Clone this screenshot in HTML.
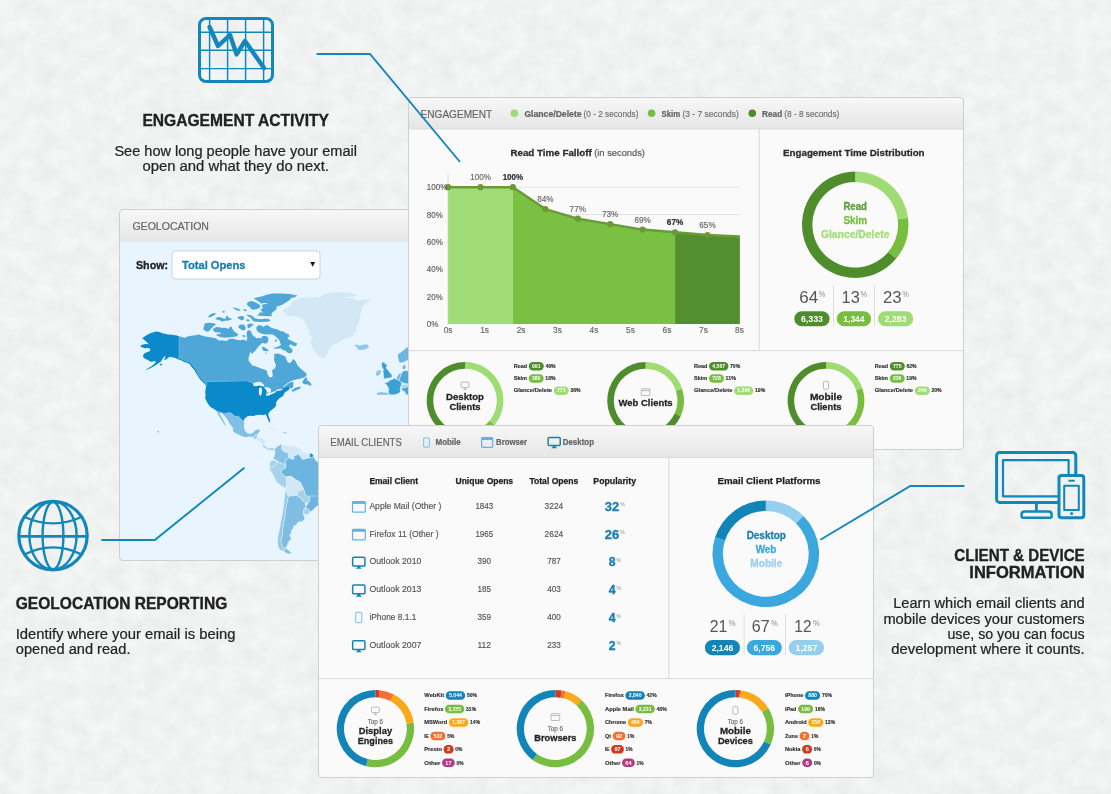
<!DOCTYPE html>
<html lang="en">
<head>
<meta charset="utf-8">
<title>Email Analytics – Engagement, Geolocation, Client &amp; Device Reporting</title>
<style>
html,body{margin:0;padding:0;background:#f1f2f1;}
body{width:1111px;height:794px;overflow:hidden;font-family:'Liberation Sans', Arial, Helvetica, sans-serif;}
svg{display:block;position:absolute;left:0;top:0;}
svg text{font-family:'Liberation Sans', Arial, Helvetica, sans-serif;}
</style>
</head>
<body>
<svg width="1111" height="794" viewBox="0 0 1111 794">
<defs>
<linearGradient id="hdr" x1="0" y1="0" x2="0" y2="1"><stop offset="0" stop-color="#f7f7f7"/><stop offset="1" stop-color="#e6e6e6"/></linearGradient>
<filter id="tex" x="0" y="0" width="100%" height="100%" color-interpolation-filters="sRGB"><feTurbulence type="fractalNoise" baseFrequency="0.055 0.06" numOctaves="3" seed="11"/><feColorMatrix type="matrix" values="0.06 0 0 0 0.913  0.06 0 0 0 0.917  0.06 0 0 0 0.917  0 0 0 0 1"/></filter>
</defs>
<rect width="1111" height="794" fill="#f1f2f2"/>
<rect id="bg-texture" width="1111" height="794" fill="#f1f2f2" filter="url(#tex)"/>
<g id="geo">
<clipPath id="geo-clip"><rect x="119.5" y="209.5" width="555" height="351" rx="3.5"/></clipPath>
<rect x="119.5" y="209.5" width="555" height="351" rx="3.5" fill="#fafafa"/>
<g clip-path="url(#geo-clip)">
<rect x="119.5" y="209.5" width="555" height="32" fill="url(#hdr)"/>
<rect x="119.5" y="241.0" width="555" height="1" fill="#dcdcdc"/>
<rect x="119.5" y="241.5" width="555" height="319" fill="#e8f5fe"/>
<text x="132.40" y="230.30" font-size="11.2" fill="#666" stroke="#666" stroke-width="0.20" textLength="76.60" lengthAdjust="spacingAndGlyphs">GEOLOCATION</text>
<g id="world-map">
<path d="M282.3 310.7L286.3 308.6L291.2 305.0L290.4 303.4L295.3 300.5L298.5 298.1L305.8 297.5L313.1 297.7L315.5 296.9L321.2 297.7L320.8 296.1L325.2 294.1L333.3 292.4L343.9 292.3L352.0 293.2L357.2 294.9L356.0 296.1L347.9 296.9L342.2 297.7L352.0 298.1L356.0 298.9L356.0 300.5L359.3 300.1L365.0 299.3L371.0 299.4L367.4 302.2L363.3 305.0L361.7 307.8L360.9 311.1L360.5 314.3L359.3 317.5L360.1 320.0L358.0 322.4L358.8 324.8L356.0 326.5L356.8 329.7L356.0 332.1L353.6 333.7L354.4 335.4L350.3 337.0L346.3 338.6L342.2 340.2L338.2 342.7L334.1 344.3L330.9 346.7L328.9 349.9L327.7 353.2L326.8 355.6L323.4 358.5L320.4 357.2L316.3 354.0L313.9 349.9L311.5 345.1L310.2 341.8L311.5 338.6L313.9 335.4L311.5 335.8L308.6 335.4L309.0 332.9L311.5 332.1L308.2 330.5L307.4 327.3L306.2 324.0L304.2 320.8L301.7 318.4L297.7 316.7L293.6 316.3L288.8 316.3L284.7 315.1L287.2 313.5L283.9 312.3Z" fill="#d2e8f5"/>
<path d="M354.7 345.0L356.7 344.4L358.8 345.8L362.4 345.0L365.6 344.2L368.1 345.0L368.9 347.0L367.3 348.6L364.0 349.6L360.8 350.1L357.9 349.4L357.1 347.4L355.5 346.2Z" fill="#90c6e8"/>
<path d="M398.0 354.3L400.5 352.7L403.7 350.3L407.0 347.4L410.2 345.8L410.2 360.0L406.2 360.4L403.7 362.0L401.3 362.8L399.3 362.0L398.5 359.2L398.0 356.7Z" fill="#6db4df"/>
<path d="M402.9 366.0L404.9 364.8L405.7 366.5L404.9 368.9L403.3 369.3L402.5 367.7Z" fill="#6db4df"/>
<path d="M381.8 363.2L383.5 362.2L385.1 362.8L384.3 364.0L386.7 364.4L386.7 366.0L385.9 368.1L387.5 369.7L389.1 372.1L391.2 374.2L392.0 376.2L390.8 377.4L388.3 377.8L385.9 378.2L383.1 379.0L384.3 377.4L383.5 375.4L383.9 373.7L383.1 371.7L383.9 369.7L382.7 368.1L381.8 365.6Z" fill="#3c9fd6"/>
<path d="M376.2 372.1L377.8 370.5L380.2 369.9L381.0 371.3L380.6 373.7L378.6 375.4L376.6 375.8L376.0 374.2Z" fill="#90c6e8"/>
<path d="M401.3 373.7L402.9 371.3L405.3 370.5L410.2 371.3L410.2 384.3L405.3 383.5L402.1 382.7L401.3 381.8L398.9 380.6L399.3 378.6L400.5 376.2Z" fill="#4fa7d8" stroke="#e8f5fe" stroke-width="0.45" stroke-linejoin="round"/>
<path d="M396.4 377.8L398.0 375.4L399.7 373.3L401.3 373.7L400.5 376.2L399.3 378.6L398.9 380.6L396.4 379.4Z" fill="#6db4df" stroke="#e8f5fe" stroke-width="0.45" stroke-linejoin="round"/>
<path d="M401.3 387.9L403.7 387.9L407.0 386.7L410.2 386.7L410.2 394.8L406.2 394.8L404.5 391.6L402.1 390.4Z" fill="#4fa7d8" stroke="#e8f5fe" stroke-width="0.45" stroke-linejoin="round"/>
<path d="M400.5 385.9L402.9 384.7L406.2 384.3L410.2 384.4L410.2 386.7L407.0 386.7L403.7 387.9L401.3 387.9Z" fill="#a6d2ec" stroke="#e8f5fe" stroke-width="0.45" stroke-linejoin="round"/>
<path d="M384.3 382.7L387.5 382.3L389.9 380.2L392.4 379.4L394.0 378.2L396.4 379.4L398.9 380.6L401.3 381.8L401.7 384.3L400.5 386.7L400.1 389.1L400.5 391.6L398.9 393.2L394.8 394.8L389.9 394.8L388.3 392.4L388.7 389.1L387.5 385.9L385.9 384.3Z" fill="#3c9fd6" stroke="#e8f5fe" stroke-width="0.45" stroke-linejoin="round"/>
<path d="M377.0 392.8L381.8 392.2L386.7 392.8L389.1 394.8L377.0 394.8Z" fill="#7fbfe4"/>
<path d="M179.0 336.2L181.8 337.0L185.1 337.8L188.3 336.2L193.2 335.4L197.2 335.0L199.3 334.2L200.0 335.0L204.1 336.2L208.1 337.0L212.2 337.4L216.2 338.6L218.6 340.6L221.9 340.2L226.7 341.0L229.2 339.0L232.4 338.6L236.5 339.8L240.5 340.2L243.7 339.4L246.2 341.0L247.4 338.6L246.6 335.4L247.0 331.3L248.6 330.1L250.6 330.9L251.8 332.9L252.7 335.4L255.1 337.0L256.7 338.6L258.3 337.8L260.8 338.6L262.4 336.2L264.8 335.8L267.2 336.6L268.5 338.6L268.0 341.8L266.4 343.5L264.0 343.5L262.4 342.7L260.8 344.3L258.3 346.7L255.9 349.9L253.5 352.4L251.8 354.0L250.5 351.6L248.7 357.3L248.5 360.5L250.5 363.0L252.2 365.4L256.2 366.6L260.3 368.2L264.3 369.4L267.1 371.1L267.5 374.3L269.2 377.1L271.2 377.5L272.8 375.9L272.4 372.7L272.0 370.3L274.8 368.6L276.0 365.4L274.8 362.2L274.0 359.7L274.4 356.5L274.0 354.1L278.1 353.6L282.1 354.9L285.4 356.5L286.2 358.9L287.8 362.2L290.2 363.0L291.8 361.3L293.1 358.9L295.1 360.5L296.7 363.8L298.3 366.2L301.6 369.4L304.8 371.9L306.8 373.9L306.0 376.3L304.0 377.5L299.9 378.8L295.9 379.6L291.8 380.8L288.6 382.4L286.2 384.0L284.4 385.6L282.9 387.7L280.5 388.7L276.5 389.9L276.0 391.3L274.0 392.1L270.8 393.3L266.7 394.6L266.3 392.9L266.7 390.5L265.1 388.1L263.5 386.5L261.1 384.4L257.8 384.0L254.6 384.0L253.0 383.2L248.1 380.9L240.0 380.9L206.6 381.6L206.6 384.8L204.5 381.9L201.3 378.7L198.9 375.5L197.2 372.2L195.6 369.0L193.2 366.6L190.8 363.3L188.3 361.7L185.1 360.9L181.8 359.3L179.0 358.5Z" fill="#4fa7d8"/>
<path d="M284.4 387.4L284.6 386.3L286.6 384.7L289.4 382.8L292.7 381.8L293.6 382.4L293.1 384.4L293.5 386.0L292.7 387.7L290.6 388.5L289.4 388.1L288.6 386.0L287.0 386.5L285.8 386.9Z" fill="#4fa7d8"/>
<path d="M291.7 390.5L293.9 388.6L297.1 387.3L299.9 386.5L300.8 387.4L299.5 388.9L296.7 390.0L293.5 391.6L291.8 391.6Z" fill="#4fa7d8"/>
<path d="M302.1 382.8L303.8 379.3L306.0 377.2L307.2 377.9L306.8 380.1L308.7 381.1L310.8 383.2L311.6 385.0L310.3 386.0L308.5 384.7L306.4 384.3L304.4 384.2Z" fill="#4fa7d8"/>
<path d="M203.2 328.9L204.9 323.2L208.9 322.8L213.8 323.2L216.2 324.4L213.8 326.0L211.3 328.5L208.9 331.3L206.5 331.7L204.1 330.1Z" fill="#4fa7d8"/>
<path d="M213.0 328.9L216.2 326.9L219.4 327.3L222.7 328.1L225.9 327.7L228.4 328.9L230.0 326.9L231.6 326.5L232.4 328.9L234.0 331.3L236.5 332.9L238.5 334.6L236.5 336.6L232.4 337.0L228.4 337.4L224.3 337.8L220.3 337.0L217.0 335.8L216.2 334.6L220.3 333.7L221.9 332.9L218.6 332.5L214.6 332.1L213.4 330.5Z" fill="#4fa7d8"/>
<path d="M208.1 316.7L210.5 314.3L213.8 313.1L216.2 313.5L214.6 315.1L212.2 316.3L209.7 317.5Z" fill="#4fa7d8"/>
<path d="M215.4 318.8L217.8 317.1L221.1 317.5L224.3 318.8L226.3 317.9L225.9 315.9L227.9 315.9L228.8 317.9L231.6 318.4L231.6 319.6L228.4 320.4L225.1 320.8L222.7 321.6L221.1 321.2L219.4 320.0L216.2 319.6Z" fill="#4fa7d8"/>
<path d="M221.9 311.5L224.3 310.9L225.1 312.3L222.7 312.8Z" fill="#4fa7d8"/>
<path d="M233.2 307.4L235.6 307.8L238.9 309.0L240.5 310.3L239.7 310.9L236.9 310.3L234.0 308.8Z" fill="#4fa7d8"/>
<path d="M243.3 309.0L245.4 309.3L247.0 310.7L245.4 311.2L243.7 310.3Z" fill="#4fa7d8"/>
<path d="M237.3 317.5L239.7 316.3L242.9 315.9L244.2 317.5L243.7 319.6L241.7 320.4L239.7 319.2L238.1 318.5Z" fill="#4fa7d8"/>
<path d="M246.2 319.6L248.6 319.2L249.8 320.4L248.6 321.4L246.6 320.9Z" fill="#4fa7d8"/>
<path d="M246.6 303.8L248.6 301.7L251.8 300.9L255.1 302.2L258.3 303.8L260.4 305.8L259.9 307.8L256.7 309.0L253.5 309.8L251.0 309.0L249.8 307.0L247.8 305.8Z" fill="#4fa7d8"/>
<path d="M246.2 314.3L249.4 315.1L252.7 315.9L254.3 317.9L256.7 318.8L260.8 319.2L264.8 318.8L268.9 319.0L270.5 320.4L268.9 321.6L264.8 321.8L260.8 322.0L256.7 321.8L253.5 321.2L251.8 319.6L250.6 317.5L247.8 316.3Z" fill="#4fa7d8"/>
<path d="M238.1 326.9L239.7 324.8L242.1 324.4L244.2 324.8L245.4 327.3L245.8 329.3L243.7 330.5L241.7 330.1L239.7 328.5Z" fill="#4fa7d8"/>
<path d="M247.4 324.8L249.4 323.6L252.7 323.9L253.9 324.7L251.8 326.0L249.8 327.7L248.2 328.5L247.4 326.9Z" fill="#4fa7d8"/>
<path d="M262.0 346.7L264.0 347.1L267.2 349.1L268.9 350.4L266.4 350.8L264.0 350.4L262.4 349.1Z" fill="#4fa7d8"/>
<path d="M274.9 339.8L276.6 339.8L277.0 341.2L275.3 341.7Z" fill="#4fa7d8"/>
<path d="M242.1 335.4L244.2 335.0L245.8 336.6L244.2 337.1L242.5 336.6Z" fill="#4fa7d8"/>
<path d="M254.3 298.1L258.3 297.3L263.2 296.1L267.2 294.5L272.9 293.6L281.5 293.4L289.6 294.1L297.3 295.5L295.3 296.9L291.2 298.1L289.6 300.1L286.3 302.2L283.1 304.2L279.9 305.8L276.6 306.6L276.6 307.8L276.2 309.8L272.9 311.9L271.3 314.3L272.1 315.9L269.7 316.3L264.8 315.9L259.9 315.8L256.7 315.5L259.1 313.9L259.9 311.9L263.2 313.1L261.6 311.1L260.4 309.4L262.8 308.6L262.4 307.0L261.6 305.0L264.0 304.2L267.2 303.8L267.2 303.0L264.0 303.0L260.8 303.4L258.3 301.3L255.9 299.7L253.9 298.7Z" fill="#4fa7d8"/>
<path d="M256.7 326.5L259.1 325.2L261.6 325.6L263.2 326.9L265.6 325.6L268.0 325.2L269.7 326.9L272.1 328.1L275.3 328.9L278.2 329.7L280.7 331.3L283.1 331.3L285.5 332.9L288.8 334.6L289.6 336.6L287.2 337.8L288.8 339.4L292.0 341.0L295.3 342.7L297.3 343.5L296.1 345.9L293.6 345.9L290.4 344.3L288.8 345.9L291.2 348.3L292.8 350.4L292.0 352.0L293.1 350.0L291.8 352.4L290.2 353.6L287.8 352.8L285.4 350.8L282.9 350.0L281.0 348.3L277.0 348.7L273.7 348.3L274.5 347.5L277.8 346.7L281.0 345.1L280.2 342.7L279.4 340.2L277.0 337.8L274.5 335.4L272.1 334.2L268.0 334.6L264.0 334.2L259.9 332.9L257.5 331.3L256.3 328.9Z" fill="#4fa7d8"/>
<path d="M261.9 350.0L264.3 349.4L268.4 350.2L267.9 351.2L264.3 351.1Z" fill="#4fa7d8"/>
<path d="M265.1 352.8L266.7 352.7L266.9 353.6L265.3 353.7Z" fill="#4fa7d8"/>
<path d="M240.0 380.9L248.1 380.9L253.0 383.2L254.6 384.0L257.8 384.0L261.1 384.4L263.5 386.5L265.1 388.1L266.7 390.5L266.3 392.9L266.7 394.6L270.8 393.3L274.0 392.1L276.0 391.3L276.5 389.9L280.5 388.7L282.9 387.7L284.4 387.4L285.8 386.9L287.0 386.5L288.6 386.0L289.4 388.1L289.0 389.7L287.0 390.9L284.6 392.5L283.9 394.6L282.8 396.2L279.5 398.2L277.1 400.7L275.9 403.1L276.3 405.5L274.7 407.6L272.2 409.6L269.8 411.6L268.2 414.0L268.6 416.1L269.8 419.3L270.2 422.1L269.4 422.5L268.2 420.1L267.0 416.9L265.8 414.6L263.3 415.1L260.1 414.8L256.8 415.1L253.6 415.9L250.4 415.7L247.1 416.5L244.7 418.5L243.5 421.3L241.5 419.3L239.4 416.9L237.4 415.7L235.4 416.5L233.4 414.8L230.9 412.8L228.5 412.4L225.3 413.2L221.2 412.4L216.3 410.8L215.5 410.0L213.1 408.4L210.7 407.2L208.6 404.7L206.6 401.5L205.0 397.4L205.6 396.0L205.2 391.7L205.9 387.4L206.6 383.8L206.6 381.6Z" fill="#0b8acb"/>
<path d="M206.6 381.6L248.1 380.9L253.0 383.2" fill="none" stroke="#7cc3ea" stroke-width="0.5"/>
<path d="M142.2 338.2L144.6 336.6L147.0 335.0L150.3 333.3L154.3 332.1L156.7 331.6L159.2 332.1L162.4 333.3L166.5 334.2L172.1 334.8L177.0 335.4L179.0 336.2L179.0 358.5L181.8 359.3L185.1 360.9L188.3 361.7L190.8 363.3L193.2 366.6L195.6 369.0L197.2 372.2L198.9 375.5L201.3 378.7L204.5 381.9L206.6 384.8L205.7 385.2L203.3 382.6L200.1 379.4L197.9 376.1L196.0 372.9L194.4 370.0L192.0 367.4L189.5 364.1L187.1 362.7L184.3 361.9L181.0 360.2L178.6 359.4L175.4 358.0L172.1 357.2L169.7 356.8L168.1 358.0L165.6 359.7L164.0 360.1L165.2 357.6L165.6 356.0L164.0 356.8L162.4 359.3L160.8 361.7L158.4 363.3L155.9 364.9L153.5 366.6L150.3 368.2L147.0 369.8L145.4 370.6L147.8 368.6L151.1 366.6L154.3 364.1L155.9 361.7L154.3 360.9L151.9 361.7L149.4 361.3L147.8 359.7L145.4 358.9L143.4 357.6L143.0 355.2L144.6 353.2L147.4 352.0L149.8 351.2L150.3 349.1L148.6 347.9L144.6 348.3L141.3 347.1L140.1 345.9L142.2 344.7L145.4 343.9L148.6 344.3L147.4 342.7L145.0 340.6L143.0 339.0Z" fill="#0b8acb"/>
<path d="M179.0 336.2V358.5" stroke="#7cc3ea" stroke-width="0.5" fill="none"/>
<path d="M159.6 364.3L161.6 363.5L162.4 364.5L160.6 365.6Z" fill="#0b8acb"/>
<path d="M253.0 383.2L256.2 382.2L259.4 381.8L261.9 382.8L263.9 384.8L264.3 386.5L261.9 386.3L259.4 385.6L257.4 386.0L255.0 386.3L253.4 385.6Z" fill="#e8f5fe"/>
<path d="M259.2 388.1L260.7 387.4L261.7 388.1L262.0 390.5L261.7 392.9L261.2 395.4L259.8 395.5L259.0 393.7L258.8 390.9Z" fill="#e8f5fe"/>
<path d="M264.3 387.4L266.7 387.1L269.2 387.7L270.8 388.9L271.2 390.9L270.0 392.5L268.4 392.9L267.1 391.7L266.3 390.1L265.1 388.9Z" fill="#e8f5fe"/>
<path d="M265.9 394.2L267.9 393.3L270.8 392.5L274.0 391.5L276.0 390.9L276.5 391.7L274.4 392.9L271.6 394.2L268.8 395.4L266.3 395.8Z" fill="#e8f5fe"/>
<path d="M276.0 390.1L278.9 389.3L282.1 388.7L283.3 389.3L280.9 390.3L278.1 390.9L276.5 390.9Z" fill="#e8f5fe"/>
<path d="M216.3 410.8L221.2 412.4L225.3 413.2L228.5 412.4L230.9 412.8L233.4 414.8L235.4 416.5L237.4 415.7L239.4 416.9L241.5 419.3L243.5 421.3L244.3 423.4L243.9 425.8L244.3 429.0L245.5 431.5L247.1 433.1L249.6 433.9L252.0 433.5L254.0 432.3L255.2 430.2L257.7 429.4L260.1 429.7L259.3 431.9L257.7 433.5L255.6 434.3L253.6 435.5L253.2 437.1L251.6 436.7L249.6 436.3L247.1 437.1L244.7 437.1L242.3 436.3L239.8 435.1L237.4 433.9L235.0 432.7L232.9 431.0L233.4 428.6L231.7 426.6L229.7 423.4L227.7 420.1L225.7 417.3L223.6 414.8L221.6 413.2L219.2 412.4L220.8 415.7L222.8 419.3L224.8 422.9L226.2 425.9L224.8 425.1L222.7 421.9L220.6 418.5L218.9 415.7L217.3 413.0Z" fill="#7fbfe4"/>
<path d="M253.2 437.1L253.6 435.5L255.6 434.3L257.7 433.5L257.3 435.5L256.8 437.9L255.2 439.6L253.6 438.7Z" fill="#a6d2ec"/>
<path d="M256.8 437.9L260.1 438.3L263.3 439.2L265.4 440.4L264.9 442.8L263.3 444.4L261.7 443.6L259.3 441.2L256.8 439.6Z" fill="#d2e8f5"/>
<path d="M262.5 445.2L264.1 445.6L266.6 447.7L269.0 448.9L271.4 448.1L273.5 448.5L274.7 450.1L272.2 450.1L269.8 449.7L267.4 448.9L264.5 447.3L262.9 446.2Z" fill="#a6d2ec"/>
<path d="M268.2 427.4L271.4 428.2L274.7 429.8L277.1 431.0L274.7 430.6L271.4 429.4L269.0 428.4Z" fill="#d2e8f5"/>
<path d="M283.2 432.1L286.0 431.9L287.2 433.1L284.8 433.5L283.4 433.1Z" fill="#a6d2ec"/>
<path d="M282.0 445.8L284.0 444.6L288.1 445.8L292.9 446.2L297.0 446.6L300.2 449.0L301.8 451.4L300.2 452.3L298.6 454.3L295.4 455.5L293.7 456.3L294.2 458.7L291.3 459.5L289.7 457.9L288.5 456.3L288.1 453.1L285.6 452.3L283.2 451.0L281.2 448.2Z" fill="#d2e8f5" stroke="#e8f5fe" stroke-width="0.45" stroke-linejoin="round"/>
<path d="M301.8 451.4L304.3 452.3L306.7 453.9L309.1 454.3L309.5 457.1L308.3 457.9L305.9 458.7L303.5 459.5L301.8 458.7L300.2 456.3L298.6 454.3L300.2 452.3Z" fill="#d2e8f5" stroke="#e8f5fe" stroke-width="0.45" stroke-linejoin="round"/>
<path d="M309.5 453.5L311.6 453.2L313.6 455.5L312.8 457.5L310.8 457.9L309.5 457.1Z" fill="#2a95d0" stroke="#e8f5fe" stroke-width="0.45" stroke-linejoin="round"/>
<path d="M294.2 458.7L293.7 456.3L295.4 455.5L298.6 454.3L300.2 456.3L301.8 458.7L303.5 459.5L305.9 458.7L308.3 457.9L310.8 457.9L312.8 457.5L314.0 456.3L314.8 459.5L317.2 461.6L322.9 464.4L322.9 504.9L308.3 504.9L305.9 496.0L304.3 491.9L303.5 488.7L301.8 485.5L300.2 482.2L297.0 480.6L294.6 479.0L292.1 477.0L291.3 476.2L288.9 476.6L285.6 477.0L284.0 475.7L282.4 474.1L280.8 472.9L281.2 470.9L283.2 469.3L285.6 468.0L285.6 464.4L284.8 462.0L285.6 459.5L288.1 458.7L288.5 456.3L289.7 457.9L291.3 459.5Z" fill="#6cb5e0" stroke="#e8f5fe" stroke-width="0.45" stroke-linejoin="round"/>
<path d="M274.3 449.4L277.5 446.2L281.2 444.2L282.0 445.8L281.2 448.2L283.2 451.0L285.6 452.3L288.1 453.1L288.5 456.3L288.1 458.7L285.6 459.5L284.8 462.0L285.6 464.4L283.2 464.0L280.8 462.8L277.5 461.2L275.1 459.5L273.1 458.7L274.3 456.3L275.1 453.1Z" fill="#87c1e4" stroke="#e8f5fe" stroke-width="0.45" stroke-linejoin="round"/>
<path d="M269.4 464.4L270.3 461.6L273.1 459.9L275.1 460.8L277.1 462.0L275.9 464.0L273.9 466.0L271.9 467.6L270.3 467.6Z" fill="#a6d2ec" stroke="#e8f5fe" stroke-width="0.45" stroke-linejoin="round"/>
<path d="M269.4 468.9L270.3 467.6L271.9 467.6L273.9 466.0L275.9 464.0L277.1 462.0L280.8 462.8L283.2 464.0L285.6 464.4L285.6 468.0L283.2 469.3L281.2 470.9L280.8 472.9L282.4 474.1L284.0 475.7L285.6 477.0L286.9 479.8L286.5 483.8L286.0 487.1L285.6 488.7L283.2 487.1L280.0 484.7L276.7 482.2L275.1 479.0L273.1 474.9L271.1 471.7Z" fill="#a6d2ec" stroke="#e8f5fe" stroke-width="0.45" stroke-linejoin="round"/>
<path d="M285.6 477.0L288.9 476.6L291.3 476.2L292.1 477.0L294.6 479.0L297.0 480.6L300.2 482.2L301.8 485.5L303.5 488.7L301.8 490.3L299.4 490.7L297.8 492.4L297.0 495.2L293.7 496.4L290.5 496.4L288.1 496.4L286.9 493.6L286.0 490.3L285.6 488.7L286.0 487.1L286.5 483.8L286.9 479.8Z" fill="#d2e8f5" stroke="#e8f5fe" stroke-width="0.45" stroke-linejoin="round"/>
<path d="M297.8 492.4L299.4 490.7L301.8 490.3L303.5 488.7L304.3 491.9L305.9 496.0L309.9 496.0L309.9 500.9L307.5 502.1L305.1 503.3L302.7 500.9L300.2 497.6L297.0 496.0Z" fill="#a6d2ec" stroke="#e8f5fe" stroke-width="0.45" stroke-linejoin="round"/>
<path d="M309.9 496.0L322.9 496.0L322.9 503.3L316.4 506.5L314.0 509.0L311.6 511.0L310.4 511.4L308.3 509.4L305.9 508.2L305.9 506.5L308.3 503.3L309.9 500.9Z" fill="#6cb5e0" stroke="#e8f5fe" stroke-width="0.45" stroke-linejoin="round"/>
<path d="M303.9 509.0L305.9 508.2L308.3 509.4L310.4 511.4L309.1 513.8L306.7 514.8L304.3 514.2L303.1 512.2Z" fill="#a6d2ec" stroke="#e8f5fe" stroke-width="0.45" stroke-linejoin="round"/>
<path d="M288.1 496.4L297.0 495.2L297.0 496.0L300.2 497.6L302.7 500.9L305.1 503.3L305.9 506.5L303.9 509.0L303.1 512.2L303.5 515.0L304.7 517.5L304.3 519.9L301.8 521.5L298.6 521.9L297.0 523.1L296.6 525.2L293.7 526.0L293.3 528.4L291.7 530.0L291.3 532.9L289.7 534.9L290.5 537.3L291.3 538.5L288.9 541.4L287.3 544.6L286.9 546.6L284.8 547.8L283.2 548.7L282.0 546.2L281.2 543.8L280.8 540.6L282.0 536.5L282.4 532.5L282.8 528.4L283.6 522.7L284.8 516.3L285.6 509.8L286.5 504.1L287.7 499.2Z" fill="#80bde3" stroke="#e8f5fe" stroke-width="0.45" stroke-linejoin="round"/>
<path d="M285.6 488.7L286.0 490.3L286.9 493.6L288.1 496.4L287.7 499.2L286.5 504.1L285.6 509.8L284.8 516.3L283.6 522.7L282.8 528.4L282.4 532.5L282.0 536.5L280.8 540.6L281.2 543.8L282.0 546.2L283.2 548.7L284.8 547.8L286.9 546.6L286.5 548.7L284.4 549.9L282.4 551.1L280.0 549.5L278.4 547.0L277.5 543.0L277.9 538.1L278.8 532.5L280.0 527.6L280.8 521.9L282.0 516.3L283.2 509.8L284.0 503.3L284.8 496.0Z" fill="#93c8e8" stroke="#e8f5fe" stroke-width="0.45" stroke-linejoin="round"/>
<path d="M284.4 549.9L286.5 548.7L288.1 549.9L290.5 551.9L292.1 552.7L290.5 553.5L288.1 553.7L285.6 552.7L284.0 551.5Z" fill="#80bde3" stroke="#e8f5fe" stroke-width="0.45" stroke-linejoin="round"/>
<path d="M262.2 445.0L264.6 445.8L267.0 447.8L269.4 449.0L271.9 448.2L273.5 448.6L274.3 449.4L271.9 449.7L269.4 450.0L267.0 449.0L264.6 447.4L262.6 445.9Z" fill="#a6d2ec"/>
<circle cx="158.2" cy="431.6" r="0.9" fill="#9fb3bf"/>
</g>
<text x="136.00" y="269.40" font-size="11.5" fill="#222" stroke="#222" stroke-width="0.32" font-weight="bold" textLength="32.00" lengthAdjust="spacingAndGlyphs">Show:</text>
<rect x="172" y="251" width="148" height="28" rx="3" fill="#fff" stroke="#c9d3da"/>
<text x="182.00" y="269.40" font-size="11.5" fill="#1b7fb1" stroke="#1b7fb1" stroke-width="0.32" font-weight="bold" textLength="63.40" lengthAdjust="spacingAndGlyphs">Total Opens</text>
<path d="M310.3 262.1h4.8l-2.4 4.6z" fill="#111"/>
</g>
<rect x="119.5" y="209.5" width="555" height="351" rx="3.5" fill="none" stroke="#cfcfcf" stroke-width="1"/>
</g>
<g id="eng">
<clipPath id="eng-clip"><rect x="408.5" y="97.5" width="555" height="352" rx="3.5"/></clipPath>
<rect x="408.5" y="97.5" width="555" height="352" rx="3.5" fill="#fafafa"/>
<g clip-path="url(#eng-clip)">
<rect x="408.5" y="97.5" width="555" height="31.5" fill="url(#hdr)"/>
<rect x="408.5" y="128.5" width="555" height="1" fill="#dcdcdc"/>
<text x="420.60" y="117.70" font-size="10.8" fill="#666" stroke="#666" stroke-width="0.19" textLength="71.60" lengthAdjust="spacingAndGlyphs">ENGAGEMENT</text>
<circle cx="514.4" cy="113.2" r="3.8" fill="#9fdc74"/>
<text x="524.40" y="117.00" font-size="8.7" fill="#666" stroke="#666" stroke-width="0.24" font-weight="bold" textLength="57.20" lengthAdjust="spacingAndGlyphs">Glance/Delete</text>
<text x="583.60" y="117.00" font-size="8.7" fill="#707070" stroke="#707070" stroke-width="0.16" textLength="54.80" lengthAdjust="spacingAndGlyphs">(0 - 2 seconds)</text>
<circle cx="651.6" cy="113.2" r="3.8" fill="#76bd40"/>
<text x="661.60" y="117.00" font-size="8.7" fill="#666" stroke="#666" stroke-width="0.24" font-weight="bold" textLength="18.60" lengthAdjust="spacingAndGlyphs">Skim</text>
<text x="682.40" y="117.00" font-size="8.7" fill="#707070" stroke="#707070" stroke-width="0.16" textLength="56.50" lengthAdjust="spacingAndGlyphs">(3 - 7 seconds)</text>
<circle cx="752.3" cy="113.2" r="3.8" fill="#4f8d2c"/>
<text x="762.10" y="117.00" font-size="8.7" fill="#666" stroke="#666" stroke-width="0.24" font-weight="bold" textLength="20.10" lengthAdjust="spacingAndGlyphs">Read</text>
<text x="784.30" y="117.00" font-size="8.7" fill="#707070" stroke="#707070" stroke-width="0.16" textLength="55.00" lengthAdjust="spacingAndGlyphs">(8 - 8 seconds)</text>
<rect x="408.5" y="350" width="555" height="1.2" fill="#dedede"/>
<rect x="758.6" y="129" width="1.2" height="221" fill="#dedede"/>
<text x="510.40" y="156.00" font-size="9.6" fill="#2b2b2b" stroke="#2b2b2b" stroke-width="0.27" font-weight="bold" textLength="81.40" lengthAdjust="spacingAndGlyphs">Read Time Falloff</text>
<text x="594.20" y="156.00" font-size="9.6" fill="#555" stroke="#555" stroke-width="0.17" textLength="50.80" lengthAdjust="spacingAndGlyphs">(in seconds)</text>
<g id="falloff-chart">
<rect x="448.1" y="186.70" width="291.80" height="1" fill="#e2e2e2"/>
<rect x="448.1" y="214.06" width="291.80" height="1" fill="#e2e2e2"/>
<rect x="448.1" y="241.42" width="291.80" height="1" fill="#e2e2e2"/>
<rect x="448.1" y="268.78" width="291.80" height="1" fill="#e2e2e2"/>
<rect x="448.1" y="296.14" width="291.80" height="1" fill="#e2e2e2"/>
<rect x="447.5" y="173.5" width="1.1" height="150.50" fill="#dcdcdc"/>
<path d="M448.10 187.20L480.52 187.20L512.94 187.20L512.94 324.0L448.10 324.0Z" fill="#a1dc76"/>
<path d="M512.94 187.20L545.37 209.09L577.79 218.66L610.21 224.14L642.63 229.61L675.06 232.34L675.06 324.0L512.94 324.0Z" fill="#7ac143"/>
<path d="M675.06 232.34L707.48 235.08L739.90 236.45L739.90 324.0L675.06 324.0Z" fill="#548f2f"/>
<path d="M448.10 187.20L480.52 187.20L512.94 187.20L545.37 209.09L577.79 218.66L610.21 224.14L642.63 229.61L675.06 232.34L707.48 235.08L739.90 236.45" fill="none" stroke="#699c35" stroke-width="2.5" stroke-linejoin="round"/>
<circle cx="448.10" cy="187.20" r="3.1" fill="#6a9a38"/>
<circle cx="480.52" cy="187.20" r="3.1" fill="#6a9a38"/>
<circle cx="512.94" cy="187.20" r="3.1" fill="#6a9a38"/>
<circle cx="545.37" cy="209.09" r="3.1" fill="#6a9a38"/>
<circle cx="577.79" cy="218.66" r="3.1" fill="#6a9a38"/>
<circle cx="610.21" cy="224.14" r="3.1" fill="#6a9a38"/>
<circle cx="642.63" cy="229.61" r="3.1" fill="#6a9a38"/>
<circle cx="675.06" cy="232.34" r="3.1" fill="#6a9a38"/>
<circle cx="707.48" cy="235.08" r="3.1" fill="#6a9a38"/>
<text x="480.52" y="180.10" font-size="8.5" fill="#666" stroke="#666" stroke-width="0.15" text-anchor="middle" textLength="20.60" lengthAdjust="spacingAndGlyphs">100%</text>
<text x="512.94" y="180.10" font-size="8.5" fill="#333" stroke="#333" stroke-width="0.24" font-weight="bold" text-anchor="middle" textLength="20.60" lengthAdjust="spacingAndGlyphs">100%</text>
<text x="545.37" y="201.99" font-size="8.5" fill="#666" stroke="#666" stroke-width="0.15" text-anchor="middle" textLength="16.40" lengthAdjust="spacingAndGlyphs">84%</text>
<text x="577.79" y="211.56" font-size="8.5" fill="#666" stroke="#666" stroke-width="0.15" text-anchor="middle" textLength="16.40" lengthAdjust="spacingAndGlyphs">77%</text>
<text x="610.21" y="217.04" font-size="8.5" fill="#666" stroke="#666" stroke-width="0.15" text-anchor="middle" textLength="16.40" lengthAdjust="spacingAndGlyphs">73%</text>
<text x="642.63" y="222.51" font-size="8.5" fill="#666" stroke="#666" stroke-width="0.15" text-anchor="middle" textLength="16.40" lengthAdjust="spacingAndGlyphs">69%</text>
<text x="675.06" y="225.24" font-size="8.5" fill="#333" stroke="#333" stroke-width="0.24" font-weight="bold" text-anchor="middle" textLength="16.40" lengthAdjust="spacingAndGlyphs">67%</text>
<text x="707.48" y="227.98" font-size="8.5" fill="#666" stroke="#666" stroke-width="0.15" text-anchor="middle" textLength="16.40" lengthAdjust="spacingAndGlyphs">65%</text>
<text x="426.80" y="190.20" font-size="8.5" fill="#5c5c5c" stroke="#5c5c5c" stroke-width="0.15" textLength="20.60" lengthAdjust="spacingAndGlyphs">100%</text>
<text x="426.80" y="217.56" font-size="8.5" fill="#5c5c5c" stroke="#5c5c5c" stroke-width="0.15" textLength="16.00" lengthAdjust="spacingAndGlyphs">80%</text>
<text x="426.80" y="244.92" font-size="8.5" fill="#5c5c5c" stroke="#5c5c5c" stroke-width="0.15" textLength="16.00" lengthAdjust="spacingAndGlyphs">60%</text>
<text x="426.80" y="272.28" font-size="8.5" fill="#5c5c5c" stroke="#5c5c5c" stroke-width="0.15" textLength="16.00" lengthAdjust="spacingAndGlyphs">40%</text>
<text x="426.80" y="299.64" font-size="8.5" fill="#5c5c5c" stroke="#5c5c5c" stroke-width="0.15" textLength="16.00" lengthAdjust="spacingAndGlyphs">20%</text>
<text x="426.80" y="327.00" font-size="8.5" fill="#5c5c5c" stroke="#5c5c5c" stroke-width="0.15" textLength="11.60" lengthAdjust="spacingAndGlyphs">0%</text>
<text x="448.10" y="333.20" font-size="8.5" fill="#666" stroke="#666" stroke-width="0.15" text-anchor="middle" textLength="8.80" lengthAdjust="spacingAndGlyphs">0s</text>
<text x="484.58" y="333.20" font-size="8.5" fill="#666" stroke="#666" stroke-width="0.15" text-anchor="middle" textLength="8.80" lengthAdjust="spacingAndGlyphs">1s</text>
<text x="521.05" y="333.20" font-size="8.5" fill="#666" stroke="#666" stroke-width="0.15" text-anchor="middle" textLength="8.80" lengthAdjust="spacingAndGlyphs">2s</text>
<text x="557.52" y="333.20" font-size="8.5" fill="#666" stroke="#666" stroke-width="0.15" text-anchor="middle" textLength="8.80" lengthAdjust="spacingAndGlyphs">3s</text>
<text x="594.00" y="333.20" font-size="8.5" fill="#666" stroke="#666" stroke-width="0.15" text-anchor="middle" textLength="8.80" lengthAdjust="spacingAndGlyphs">4s</text>
<text x="630.48" y="333.20" font-size="8.5" fill="#666" stroke="#666" stroke-width="0.15" text-anchor="middle" textLength="8.80" lengthAdjust="spacingAndGlyphs">5s</text>
<text x="666.95" y="333.20" font-size="8.5" fill="#666" stroke="#666" stroke-width="0.15" text-anchor="middle" textLength="8.80" lengthAdjust="spacingAndGlyphs">6s</text>
<text x="703.42" y="333.20" font-size="8.5" fill="#666" stroke="#666" stroke-width="0.15" text-anchor="middle" textLength="8.80" lengthAdjust="spacingAndGlyphs">7s</text>
<text x="739.40" y="333.20" font-size="8.5" fill="#666" stroke="#666" stroke-width="0.15" text-anchor="middle" textLength="8.80" lengthAdjust="spacingAndGlyphs">8s</text>
</g>
<text x="783.00" y="156.00" font-size="9.6" fill="#2b2b2b" stroke="#2b2b2b" stroke-width="0.27" font-weight="bold" textLength="141.60" lengthAdjust="spacingAndGlyphs">Engagement Time Distribution</text>
<path d="M855.20 171.50A53.2 53.2 0 0 1 907.98 218.03L897.66 219.34A42.8 42.8 0 0 0 855.20 181.90Z" fill="#9fdc74"/>
<path d="M907.98 218.03A53.2 53.2 0 0 1 896.19 258.61L888.18 251.98A42.8 42.8 0 0 0 897.66 219.34Z" fill="#76bd40"/>
<path d="M896.19 258.61A53.2 53.2 0 1 1 855.20 171.50L855.20 181.90A42.8 42.8 0 1 0 888.18 251.98Z" fill="#4f8d2c"/>
<text x="855.20" y="210.00" font-size="10" fill="#5c9c36" stroke="#5c9c36" stroke-width="0.28" font-weight="bold" text-anchor="middle" textLength="23.60" lengthAdjust="spacingAndGlyphs">Read</text>
<text x="855.20" y="224.00" font-size="10" fill="#79bd43" stroke="#79bd43" stroke-width="0.28" font-weight="bold" text-anchor="middle" textLength="23.60" lengthAdjust="spacingAndGlyphs">Skim</text>
<text x="855.20" y="238.00" font-size="10" fill="#a3dd7a" stroke="#a3dd7a" stroke-width="0.28" font-weight="bold" text-anchor="middle" textLength="68.60" lengthAdjust="spacingAndGlyphs">Glance/Delete</text>
<text x="799.20" y="302.90" font-size="17" fill="#555" textLength="18.90" lengthAdjust="spacingAndGlyphs">64</text>
<text x="818.70" y="297.20" font-size="8.5" fill="#8c8c8c" textLength="6.60" lengthAdjust="spacingAndGlyphs">%</text>
<rect x="794.30" y="311.30" width="35.30" height="14.90" rx="7.45" fill="#4f8d2c"/>
<text x="811.95" y="321.81" font-size="8.5" fill="#fff" font-weight="bold" text-anchor="middle" textLength="21.89" lengthAdjust="spacingAndGlyphs">6,333</text>
<text x="841.60" y="302.90" font-size="17" fill="#555" textLength="18.20" lengthAdjust="spacingAndGlyphs">13</text>
<text x="860.40" y="297.20" font-size="8.5" fill="#8c8c8c" textLength="6.60" lengthAdjust="spacingAndGlyphs">%</text>
<rect x="836.80" y="311.30" width="34.30" height="14.90" rx="7.45" fill="#76bd40"/>
<text x="853.95" y="321.81" font-size="8.5" fill="#fff" font-weight="bold" text-anchor="middle" textLength="21.27" lengthAdjust="spacingAndGlyphs">1,344</text>
<text x="883.00" y="302.90" font-size="17" fill="#555" textLength="18.60" lengthAdjust="spacingAndGlyphs">23</text>
<text x="902.20" y="297.20" font-size="8.5" fill="#8c8c8c" textLength="6.60" lengthAdjust="spacingAndGlyphs">%</text>
<rect x="878.00" y="311.30" width="35.20" height="14.90" rx="7.45" fill="#9fdc74"/>
<text x="895.60" y="321.81" font-size="8.5" fill="#fff" font-weight="bold" text-anchor="middle" textLength="21.82" lengthAdjust="spacingAndGlyphs">2,283</text>
<rect x="833" y="285.4" width="1" height="41" fill="#dedede"/><rect x="874" y="285.4" width="1" height="41" fill="#dedede"/>
<path d="M465.00 362.10A38.4 38.4 0 0 1 494.59 424.98L489.50 420.77A31.8 31.8 0 0 0 465.00 368.70Z" fill="#9fdc74"/>
<path d="M494.59 424.98A38.4 38.4 0 0 1 455.45 437.69L457.09 431.30A31.8 31.8 0 0 0 489.50 420.77Z" fill="#76bd40"/>
<path d="M455.45 437.69A38.4 38.4 0 0 1 465.00 362.10L465.00 368.70A31.8 31.8 0 0 0 457.09 431.30Z" fill="#4f8d2c"/>
<g fill="none" stroke="#b9b9b9" stroke-width="1"><rect x="461.10" y="382.10" width="7.8" height="5.4" rx="0.8"/><path d="M463.20 389.40h3.6M465.00 387.50v1.9"/></g>
<text x="465.00" y="400.00" font-size="9.4" fill="#222" stroke="#222" stroke-width="0.26" font-weight="bold" text-anchor="middle" textLength="37.90" lengthAdjust="spacingAndGlyphs">Desktop</text>
<text x="465.00" y="409.80" font-size="9.4" fill="#222" stroke="#222" stroke-width="0.26" font-weight="bold" text-anchor="middle" textLength="31.10" lengthAdjust="spacingAndGlyphs">Clients</text>
<text x="513.70" y="367.90" font-size="5.9" fill="#333" stroke="#333" stroke-width="0.17" font-weight="bold" textLength="13.40" lengthAdjust="spacingAndGlyphs">Read</text>
<rect x="528.80" y="362.00" width="15.0" height="8.4" rx="4.2" fill="#4f8d2c"/>
<text x="536.30" y="367.80" font-size="5.3" fill="#fff" font-weight="bold" text-anchor="middle" textLength="8.60" lengthAdjust="spacingAndGlyphs">991</text>
<text x="545.40" y="367.90" font-size="5.9" fill="#333" stroke="#333" stroke-width="0.17" font-weight="bold" textLength="10.20" lengthAdjust="spacingAndGlyphs">46%</text>
<text x="513.70" y="380.15" font-size="5.9" fill="#333" stroke="#333" stroke-width="0.17" font-weight="bold" textLength="13.30" lengthAdjust="spacingAndGlyphs">Skim</text>
<rect x="528.70" y="374.25" width="15.0" height="8.4" rx="4.2" fill="#76bd40"/>
<text x="536.20" y="380.05" font-size="5.3" fill="#fff" font-weight="bold" text-anchor="middle" textLength="8.60" lengthAdjust="spacingAndGlyphs">380</text>
<text x="545.30" y="380.15" font-size="5.9" fill="#333" stroke="#333" stroke-width="0.17" font-weight="bold" textLength="10.20" lengthAdjust="spacingAndGlyphs">18%</text>
<text x="513.70" y="392.40" font-size="5.9" fill="#333" stroke="#333" stroke-width="0.17" font-weight="bold" textLength="38.40" lengthAdjust="spacingAndGlyphs">Glance/Delete</text>
<rect x="553.80" y="386.50" width="15.0" height="8.4" rx="4.2" fill="#9fdc74"/>
<text x="561.30" y="392.30" font-size="5.3" fill="#fff" font-weight="bold" text-anchor="middle" textLength="8.60" lengthAdjust="spacingAndGlyphs">771</text>
<text x="570.40" y="392.40" font-size="5.9" fill="#333" stroke="#333" stroke-width="0.17" font-weight="bold" textLength="10.20" lengthAdjust="spacingAndGlyphs">36%</text>
<path d="M645.60 362.10A38.4 38.4 0 0 1 682.12 388.63L675.84 390.67A31.8 31.8 0 0 0 645.60 368.70Z" fill="#9fdc74"/>
<path d="M682.12 388.63A38.4 38.4 0 0 1 680.65 416.19L674.62 413.50A31.8 31.8 0 0 0 675.84 390.67Z" fill="#76bd40"/>
<path d="M680.65 416.19A38.4 38.4 0 1 1 645.60 362.10L645.60 368.70A31.8 31.8 0 1 0 674.62 413.50Z" fill="#4f8d2c"/>
<g fill="none" stroke="#b9b9b9" stroke-width="1"><rect x="641.30" y="388.80" width="8.6" height="6.8" rx="0.6"/><path d="M641.30 390.60h8.6"/></g>
<text x="645.60" y="405.90" font-size="9.4" fill="#222" stroke="#222" stroke-width="0.26" font-weight="bold" text-anchor="middle" textLength="54.00" lengthAdjust="spacingAndGlyphs">Web Clients</text>
<text x="694.00" y="367.90" font-size="5.9" fill="#333" stroke="#333" stroke-width="0.17" font-weight="bold" textLength="13.40" lengthAdjust="spacingAndGlyphs">Read</text>
<rect x="709.10" y="362.00" width="19.3" height="8.4" rx="4.2" fill="#4f8d2c"/>
<text x="718.75" y="367.80" font-size="5.3" fill="#fff" font-weight="bold" text-anchor="middle" textLength="12.90" lengthAdjust="spacingAndGlyphs">4,567</text>
<text x="730.00" y="367.90" font-size="5.9" fill="#333" stroke="#333" stroke-width="0.17" font-weight="bold" textLength="10.20" lengthAdjust="spacingAndGlyphs">70%</text>
<text x="694.00" y="380.15" font-size="5.9" fill="#333" stroke="#333" stroke-width="0.17" font-weight="bold" textLength="13.30" lengthAdjust="spacingAndGlyphs">Skim</text>
<rect x="709.00" y="374.25" width="15.0" height="8.4" rx="4.2" fill="#76bd40"/>
<text x="716.50" y="380.05" font-size="5.3" fill="#fff" font-weight="bold" text-anchor="middle" textLength="8.60" lengthAdjust="spacingAndGlyphs">728</text>
<text x="725.60" y="380.15" font-size="5.9" fill="#333" stroke="#333" stroke-width="0.17" font-weight="bold" textLength="10.20" lengthAdjust="spacingAndGlyphs">11%</text>
<text x="694.00" y="392.40" font-size="5.9" fill="#333" stroke="#333" stroke-width="0.17" font-weight="bold" textLength="38.40" lengthAdjust="spacingAndGlyphs">Glance/Delete</text>
<rect x="734.10" y="386.50" width="19.3" height="8.4" rx="4.2" fill="#9fdc74"/>
<text x="743.75" y="392.30" font-size="5.3" fill="#fff" font-weight="bold" text-anchor="middle" textLength="12.90" lengthAdjust="spacingAndGlyphs">1,266</text>
<text x="755.00" y="392.40" font-size="5.9" fill="#333" stroke="#333" stroke-width="0.17" font-weight="bold" textLength="10.20" lengthAdjust="spacingAndGlyphs">19%</text>
<path d="M826.00 362.10A38.4 38.4 0 0 1 862.37 388.18L856.12 390.30A31.8 31.8 0 0 0 826.00 368.70Z" fill="#9fdc74"/>
<path d="M862.37 388.18A38.4 38.4 0 0 1 851.19 429.49L846.86 424.50A31.8 31.8 0 0 0 856.12 390.30Z" fill="#76bd40"/>
<path d="M851.19 429.49A38.4 38.4 0 1 1 826.00 362.10L826.00 368.70A31.8 31.8 0 1 0 846.86 424.50Z" fill="#4f8d2c"/>
<g fill="none" stroke="#b9b9b9" stroke-width="1"><rect x="823.50" y="381.40" width="5" height="7.8" rx="0.9"/></g>
<text x="826.00" y="400.00" font-size="9.4" fill="#222" stroke="#222" stroke-width="0.26" font-weight="bold" text-anchor="middle" textLength="32.20" lengthAdjust="spacingAndGlyphs">Mobile</text>
<text x="826.00" y="409.80" font-size="9.4" fill="#222" stroke="#222" stroke-width="0.26" font-weight="bold" text-anchor="middle" textLength="31.10" lengthAdjust="spacingAndGlyphs">Clients</text>
<text x="874.70" y="367.90" font-size="5.9" fill="#333" stroke="#333" stroke-width="0.17" font-weight="bold" textLength="13.40" lengthAdjust="spacingAndGlyphs">Read</text>
<rect x="889.80" y="362.00" width="15.0" height="8.4" rx="4.2" fill="#4f8d2c"/>
<text x="897.30" y="367.80" font-size="5.3" fill="#fff" font-weight="bold" text-anchor="middle" textLength="8.60" lengthAdjust="spacingAndGlyphs">775</text>
<text x="906.40" y="367.90" font-size="5.9" fill="#333" stroke="#333" stroke-width="0.17" font-weight="bold" textLength="10.20" lengthAdjust="spacingAndGlyphs">62%</text>
<text x="874.70" y="380.15" font-size="5.9" fill="#333" stroke="#333" stroke-width="0.17" font-weight="bold" textLength="13.30" lengthAdjust="spacingAndGlyphs">Skim</text>
<rect x="889.70" y="374.25" width="15.0" height="8.4" rx="4.2" fill="#76bd40"/>
<text x="897.20" y="380.05" font-size="5.3" fill="#fff" font-weight="bold" text-anchor="middle" textLength="8.60" lengthAdjust="spacingAndGlyphs">236</text>
<text x="906.30" y="380.15" font-size="5.9" fill="#333" stroke="#333" stroke-width="0.17" font-weight="bold" textLength="10.20" lengthAdjust="spacingAndGlyphs">19%</text>
<text x="874.70" y="392.40" font-size="5.9" fill="#333" stroke="#333" stroke-width="0.17" font-weight="bold" textLength="38.40" lengthAdjust="spacingAndGlyphs">Glance/Delete</text>
<rect x="914.80" y="386.50" width="15.0" height="8.4" rx="4.2" fill="#9fdc74"/>
<text x="922.30" y="392.30" font-size="5.3" fill="#fff" font-weight="bold" text-anchor="middle" textLength="8.60" lengthAdjust="spacingAndGlyphs">246</text>
<text x="931.40" y="392.40" font-size="5.9" fill="#333" stroke="#333" stroke-width="0.17" font-weight="bold" textLength="10.20" lengthAdjust="spacingAndGlyphs">20%</text>
</g>
<rect x="408.5" y="97.5" width="555" height="352" rx="3.5" fill="none" stroke="#cfcfcf" stroke-width="1"/>
</g>
<g id="cli">
<clipPath id="cli-clip"><rect x="318.5" y="425.5" width="555" height="352" rx="3.5"/></clipPath>
<rect x="318.5" y="425.5" width="555" height="352" rx="3.5" fill="#fafafa"/>
<g clip-path="url(#cli-clip)">
<rect x="318.5" y="425.5" width="555" height="32" fill="url(#hdr)"/>
<rect x="318.5" y="457.0" width="555" height="1" fill="#dcdcdc"/>
<text x="330.30" y="446.30" font-size="11.2" fill="#666" stroke="#666" stroke-width="0.20" textLength="71.50" lengthAdjust="spacingAndGlyphs">EMAIL CLIENTS</text>
<rect x="423.60" y="437.90" width="5.80" height="9.20" rx="1.3" fill="none" stroke="#8cc8ea" stroke-width="1.2"/>
<text x="435.50" y="444.90" font-size="8.5" fill="#666" stroke="#666" stroke-width="0.24" font-weight="bold" textLength="25.20" lengthAdjust="spacingAndGlyphs">Mobile</text>
<rect x="481.60" y="437.70" width="11.10" height="9.60" rx="1" fill="none" stroke="#5fb3e3" stroke-width="1.2"/>
<rect x="481.60" y="437.70" width="11.10" height="2.3" fill="#5fb3e3"/>
<text x="496.10" y="444.90" font-size="8.5" fill="#666" stroke="#666" stroke-width="0.24" font-weight="bold" textLength="31.00" lengthAdjust="spacingAndGlyphs">Browser</text>
<rect x="548.15" y="437.45" width="12.10" height="8.00" rx="1.1" fill="none" stroke="#1285b8" stroke-width="1.5"/>
<path d="M551.20 448.30h6l-1.6-1.6v-1.4h-2.8v1.4z" fill="#1285b8"/>
<text x="562.70" y="444.90" font-size="8.5" fill="#666" stroke="#666" stroke-width="0.24" font-weight="bold" textLength="31.30" lengthAdjust="spacingAndGlyphs">Desktop</text>
<rect x="318.5" y="678" width="555" height="1.2" fill="#dedede"/>
<rect x="668.2" y="457.5" width="1.2" height="221" fill="#dedede"/>
<text x="369.40" y="484.10" font-size="9" fill="#222" stroke="#222" stroke-width="0.25" font-weight="bold" textLength="48.60" lengthAdjust="spacingAndGlyphs">Email Client</text>
<text x="484.30" y="484.10" font-size="9" fill="#222" stroke="#222" stroke-width="0.25" font-weight="bold" text-anchor="middle" textLength="57.60" lengthAdjust="spacingAndGlyphs">Unique Opens</text>
<text x="553.90" y="484.10" font-size="9" fill="#222" stroke="#222" stroke-width="0.25" font-weight="bold" text-anchor="middle" textLength="49.00" lengthAdjust="spacingAndGlyphs">Total Opens</text>
<text x="614.70" y="484.10" font-size="9" fill="#222" stroke="#222" stroke-width="0.25" font-weight="bold" text-anchor="middle" textLength="42.70" lengthAdjust="spacingAndGlyphs">Popularity</text>
<rect x="352.50" y="501.60" width="12.80" height="10.50" rx="1" fill="none" stroke="#5fb3e3" stroke-width="1.2"/>
<rect x="352.50" y="501.60" width="12.80" height="2.3" fill="#5fb3e3"/>
<text x="369.40" y="508.70" font-size="9" fill="#555" stroke="#555" stroke-width="0.16" textLength="72.00" lengthAdjust="spacingAndGlyphs">Apple Mail (Other )</text>
<text x="484.30" y="508.70" font-size="9" fill="#555" stroke="#555" stroke-width="0.16" text-anchor="middle" textLength="17.80" lengthAdjust="spacingAndGlyphs">1843</text>
<text x="553.90" y="508.70" font-size="9" fill="#555" stroke="#555" stroke-width="0.16" text-anchor="middle" textLength="18.60" lengthAdjust="spacingAndGlyphs">3224</text>
<text x="604.85" y="510.80" font-size="13" fill="#1b7fb1" stroke="#1b7fb1" stroke-width="0.36" font-weight="bold" textLength="14.40" lengthAdjust="spacingAndGlyphs">32</text>
<text x="620.35" y="506.30" font-size="6" fill="#8c8c8c" textLength="4.40" lengthAdjust="spacingAndGlyphs">%</text>
<rect x="352.50" y="529.43" width="12.80" height="10.50" rx="1" fill="none" stroke="#5fb3e3" stroke-width="1.2"/>
<rect x="352.50" y="529.43" width="12.80" height="2.3" fill="#5fb3e3"/>
<text x="369.40" y="536.53" font-size="9" fill="#555" stroke="#555" stroke-width="0.16" textLength="69.30" lengthAdjust="spacingAndGlyphs">Firefox 11 (Other )</text>
<text x="484.30" y="536.53" font-size="9" fill="#555" stroke="#555" stroke-width="0.16" text-anchor="middle" textLength="17.80" lengthAdjust="spacingAndGlyphs">1965</text>
<text x="553.90" y="536.53" font-size="9" fill="#555" stroke="#555" stroke-width="0.16" text-anchor="middle" textLength="18.60" lengthAdjust="spacingAndGlyphs">2624</text>
<text x="604.85" y="538.63" font-size="13" fill="#1b7fb1" stroke="#1b7fb1" stroke-width="0.36" font-weight="bold" textLength="14.40" lengthAdjust="spacingAndGlyphs">26</text>
<text x="620.35" y="534.13" font-size="6" fill="#8c8c8c" textLength="4.40" lengthAdjust="spacingAndGlyphs">%</text>
<rect x="352.65" y="557.21" width="12.30" height="8.80" rx="1.1" fill="none" stroke="#1285b8" stroke-width="1.5"/>
<path d="M355.80 568.86h6l-1.6-1.6v-1.4h-2.8v1.4z" fill="#1285b8"/>
<text x="369.40" y="564.36" font-size="9" fill="#555" stroke="#555" stroke-width="0.16" textLength="52.00" lengthAdjust="spacingAndGlyphs">Outlook 2010</text>
<text x="484.30" y="564.36" font-size="9" fill="#555" stroke="#555" stroke-width="0.16" text-anchor="middle" textLength="13.50" lengthAdjust="spacingAndGlyphs">390</text>
<text x="553.90" y="564.36" font-size="9" fill="#555" stroke="#555" stroke-width="0.16" text-anchor="middle" textLength="13.50" lengthAdjust="spacingAndGlyphs">787</text>
<text x="608.65" y="566.46" font-size="13" fill="#1b7fb1" stroke="#1b7fb1" stroke-width="0.36" font-weight="bold" textLength="6.80" lengthAdjust="spacingAndGlyphs">8</text>
<text x="616.55" y="561.96" font-size="6" fill="#8c8c8c" textLength="4.40" lengthAdjust="spacingAndGlyphs">%</text>
<rect x="352.65" y="585.04" width="12.30" height="8.80" rx="1.1" fill="none" stroke="#1285b8" stroke-width="1.5"/>
<path d="M355.80 596.69h6l-1.6-1.6v-1.4h-2.8v1.4z" fill="#1285b8"/>
<text x="369.40" y="592.19" font-size="9" fill="#555" stroke="#555" stroke-width="0.16" textLength="52.00" lengthAdjust="spacingAndGlyphs">Outlook 2013</text>
<text x="484.30" y="592.19" font-size="9" fill="#555" stroke="#555" stroke-width="0.16" text-anchor="middle" textLength="13.50" lengthAdjust="spacingAndGlyphs">185</text>
<text x="553.90" y="592.19" font-size="9" fill="#555" stroke="#555" stroke-width="0.16" text-anchor="middle" textLength="13.50" lengthAdjust="spacingAndGlyphs">403</text>
<text x="608.65" y="594.29" font-size="13" fill="#1b7fb1" stroke="#1b7fb1" stroke-width="0.36" font-weight="bold" textLength="6.80" lengthAdjust="spacingAndGlyphs">4</text>
<text x="616.55" y="589.79" font-size="6" fill="#8c8c8c" textLength="4.40" lengthAdjust="spacingAndGlyphs">%</text>
<rect x="355.60" y="612.42" width="6.20" height="10.20" rx="1.3" fill="none" stroke="#8cc8ea" stroke-width="1.2"/>
<text x="369.40" y="620.02" font-size="9" fill="#555" stroke="#555" stroke-width="0.16" textLength="47.00" lengthAdjust="spacingAndGlyphs">iPhone 8.1.1</text>
<text x="484.30" y="620.02" font-size="9" fill="#555" stroke="#555" stroke-width="0.16" text-anchor="middle" textLength="13.50" lengthAdjust="spacingAndGlyphs">359</text>
<text x="553.90" y="620.02" font-size="9" fill="#555" stroke="#555" stroke-width="0.16" text-anchor="middle" textLength="13.50" lengthAdjust="spacingAndGlyphs">400</text>
<text x="608.65" y="622.12" font-size="13" fill="#1b7fb1" stroke="#1b7fb1" stroke-width="0.36" font-weight="bold" textLength="6.80" lengthAdjust="spacingAndGlyphs">4</text>
<text x="616.55" y="617.62" font-size="6" fill="#8c8c8c" textLength="4.40" lengthAdjust="spacingAndGlyphs">%</text>
<rect x="352.65" y="640.70" width="12.30" height="8.80" rx="1.1" fill="none" stroke="#1285b8" stroke-width="1.5"/>
<path d="M355.80 652.35h6l-1.6-1.6v-1.4h-2.8v1.4z" fill="#1285b8"/>
<text x="369.40" y="647.85" font-size="9" fill="#555" stroke="#555" stroke-width="0.16" textLength="52.00" lengthAdjust="spacingAndGlyphs">Outlook 2007</text>
<text x="484.30" y="647.85" font-size="9" fill="#555" stroke="#555" stroke-width="0.16" text-anchor="middle" textLength="13.50" lengthAdjust="spacingAndGlyphs">112</text>
<text x="553.90" y="647.85" font-size="9" fill="#555" stroke="#555" stroke-width="0.16" text-anchor="middle" textLength="13.50" lengthAdjust="spacingAndGlyphs">233</text>
<text x="608.65" y="649.95" font-size="13" fill="#1b7fb1" stroke="#1b7fb1" stroke-width="0.36" font-weight="bold" textLength="6.80" lengthAdjust="spacingAndGlyphs">2</text>
<text x="616.55" y="645.45" font-size="6" fill="#8c8c8c" textLength="4.40" lengthAdjust="spacingAndGlyphs">%</text>
<text x="717.50" y="484.00" font-size="9" fill="#222" stroke="#222" stroke-width="0.25" font-weight="bold" textLength="103.00" lengthAdjust="spacingAndGlyphs">Email Client Platforms</text>
<path d="M765.80 500.50A53.3 53.3 0 0 1 803.49 516.11L796.13 523.47A42.9 42.9 0 0 0 765.80 510.90Z" fill="#95ceee"/>
<path d="M803.49 516.11A53.3 53.3 0 1 1 715.11 537.33L725.00 540.54A42.9 42.9 0 1 0 796.13 523.47Z" fill="#3aa7de"/>
<path d="M715.11 537.33A53.3 53.3 0 0 1 765.80 500.50L765.80 510.90A42.9 42.9 0 0 0 725.00 540.54Z" fill="#1285b8"/>
<text x="766.30" y="539.30" font-size="10" fill="#1b80b3" stroke="#1b80b3" stroke-width="0.28" font-weight="bold" text-anchor="middle" textLength="39.30" lengthAdjust="spacingAndGlyphs">Desktop</text>
<text x="766.00" y="552.90" font-size="10" fill="#3da6dc" stroke="#3da6dc" stroke-width="0.28" font-weight="bold" text-anchor="middle" textLength="20.70" lengthAdjust="spacingAndGlyphs">Web</text>
<text x="766.30" y="566.80" font-size="10" fill="#9ccfed" stroke="#9ccfed" stroke-width="0.28" font-weight="bold" text-anchor="middle" textLength="32.00" lengthAdjust="spacingAndGlyphs">Mobile</text>
<text x="709.80" y="631.70" font-size="17" fill="#555" textLength="17.60" lengthAdjust="spacingAndGlyphs">21</text>
<text x="728.80" y="626.00" font-size="8.5" fill="#8c8c8c" textLength="6.80" lengthAdjust="spacingAndGlyphs">%</text>
<rect x="704.90" y="640.10" width="35.10" height="15.10" rx="7.55" fill="#1285b8"/>
<text x="722.45" y="650.71" font-size="8.5" fill="#fff" font-weight="bold" text-anchor="middle" textLength="21.60" lengthAdjust="spacingAndGlyphs">2,146</text>
<text x="751.70" y="631.70" font-size="17" fill="#555" textLength="17.90" lengthAdjust="spacingAndGlyphs">67</text>
<text x="771.00" y="626.00" font-size="8.5" fill="#8c8c8c" textLength="6.80" lengthAdjust="spacingAndGlyphs">%</text>
<rect x="746.90" y="640.10" width="34.90" height="15.10" rx="7.55" fill="#3aa7de"/>
<text x="764.35" y="650.71" font-size="8.5" fill="#fff" font-weight="bold" text-anchor="middle" textLength="21.60" lengthAdjust="spacingAndGlyphs">6,756</text>
<text x="794.30" y="631.70" font-size="17" fill="#555" textLength="17.20" lengthAdjust="spacingAndGlyphs">12</text>
<text x="812.90" y="626.00" font-size="8.5" fill="#8c8c8c" textLength="6.80" lengthAdjust="spacingAndGlyphs">%</text>
<rect x="788.80" y="640.10" width="35.20" height="15.10" rx="7.55" fill="#95ceee"/>
<text x="806.40" y="650.71" font-size="8.5" fill="#fff" font-weight="bold" text-anchor="middle" textLength="21.60" lengthAdjust="spacingAndGlyphs">1,257</text>
<rect x="743.6" y="614.3" width="1" height="41" fill="#dedede"/><rect x="785" y="614.3" width="1" height="41" fill="#dedede"/>
<path d="M375.40 689.90A38.7 38.7 0 0 1 379.78 690.15L378.95 697.40A31.4 31.4 0 0 0 375.40 697.20Z" fill="#d0391c"/>
<path d="M379.78 690.15A38.7 38.7 0 0 1 393.87 694.59L390.38 701.01A31.4 31.4 0 0 0 378.95 697.40Z" fill="#f37032"/>
<path d="M393.87 694.59A38.7 38.7 0 0 1 413.62 722.55L406.41 723.69A31.4 31.4 0 0 0 390.38 701.01Z" fill="#fba919"/>
<path d="M413.62 722.55A38.7 38.7 0 0 1 366.04 766.15L367.80 759.07A31.4 31.4 0 0 0 406.41 723.69Z" fill="#76bd40"/>
<path d="M366.04 766.15A38.7 38.7 0 0 1 375.40 689.90L375.40 697.20A31.4 31.4 0 0 0 367.80 759.07Z" fill="#1285b8"/>
<g fill="none" stroke="#bdbdbd" stroke-width="1"><rect x="371.50" y="707.10" width="7.8" height="5.4" rx="0.8"/><path d="M373.60 714.40h3.6M375.40 712.50v1.9"/></g>
<text x="375.40" y="724.10" font-size="7.6" fill="#666" stroke="#666" stroke-width="0.14" text-anchor="middle" textLength="15.40" lengthAdjust="spacingAndGlyphs">Top 6</text>
<text x="375.40" y="734.10" font-size="9.6" fill="#222" stroke="#222" stroke-width="0.27" font-weight="bold" text-anchor="middle" textLength="33.50" lengthAdjust="spacingAndGlyphs">Display</text>
<text x="375.40" y="744.20" font-size="9.6" fill="#222" stroke="#222" stroke-width="0.27" font-weight="bold" text-anchor="middle" textLength="35.10" lengthAdjust="spacingAndGlyphs">Engines</text>
<text x="424.30" y="697.20" font-size="5.9" fill="#333" stroke="#333" stroke-width="0.17" font-weight="bold" textLength="19.80" lengthAdjust="spacingAndGlyphs">WebKit</text>
<rect x="445.70" y="691.20" width="19.5" height="8.5" rx="4.25" fill="#1285b8"/>
<text x="455.45" y="697.10" font-size="5.3" fill="#fff" font-weight="bold" text-anchor="middle" textLength="12.90" lengthAdjust="spacingAndGlyphs">5,044</text>
<text x="466.90" y="697.20" font-size="5.9" fill="#333" stroke="#333" stroke-width="0.17" font-weight="bold" textLength="10.00" lengthAdjust="spacingAndGlyphs">50%</text>
<text x="424.30" y="710.68" font-size="5.9" fill="#333" stroke="#333" stroke-width="0.17" font-weight="bold" textLength="19.00" lengthAdjust="spacingAndGlyphs">Firefox</text>
<rect x="444.90" y="704.68" width="19.5" height="8.5" rx="4.25" fill="#76bd40"/>
<text x="454.65" y="710.58" font-size="5.3" fill="#fff" font-weight="bold" text-anchor="middle" textLength="12.90" lengthAdjust="spacingAndGlyphs">3,155</text>
<text x="466.10" y="710.68" font-size="5.9" fill="#333" stroke="#333" stroke-width="0.17" font-weight="bold" textLength="10.00" lengthAdjust="spacingAndGlyphs">31%</text>
<text x="424.30" y="724.16" font-size="5.9" fill="#333" stroke="#333" stroke-width="0.17" font-weight="bold" textLength="23.00" lengthAdjust="spacingAndGlyphs">MSWord</text>
<rect x="448.90" y="718.16" width="19.5" height="8.5" rx="4.25" fill="#fba919"/>
<text x="458.65" y="724.06" font-size="5.3" fill="#fff" font-weight="bold" text-anchor="middle" textLength="12.90" lengthAdjust="spacingAndGlyphs">1,367</text>
<text x="470.10" y="724.16" font-size="5.9" fill="#333" stroke="#333" stroke-width="0.17" font-weight="bold" textLength="10.00" lengthAdjust="spacingAndGlyphs">14%</text>
<text x="424.30" y="737.64" font-size="5.9" fill="#333" stroke="#333" stroke-width="0.17" font-weight="bold" textLength="4.40" lengthAdjust="spacingAndGlyphs">IE</text>
<rect x="430.30" y="731.64" width="15.2" height="8.5" rx="4.25" fill="#f37032"/>
<text x="437.90" y="737.54" font-size="5.3" fill="#fff" font-weight="bold" text-anchor="middle" textLength="8.60" lengthAdjust="spacingAndGlyphs">532</text>
<text x="447.20" y="737.64" font-size="5.9" fill="#333" stroke="#333" stroke-width="0.17" font-weight="bold" textLength="7.00" lengthAdjust="spacingAndGlyphs">5%</text>
<text x="424.30" y="751.12" font-size="5.9" fill="#333" stroke="#333" stroke-width="0.17" font-weight="bold" textLength="17.70" lengthAdjust="spacingAndGlyphs">Presto</text>
<rect x="443.60" y="745.12" width="10.0" height="8.5" rx="4.25" fill="#d0391c"/>
<text x="448.60" y="751.02" font-size="5.3" fill="#fff" font-weight="bold" text-anchor="middle" textLength="3.40" lengthAdjust="spacingAndGlyphs">2</text>
<text x="455.30" y="751.12" font-size="5.9" fill="#333" stroke="#333" stroke-width="0.17" font-weight="bold" textLength="7.00" lengthAdjust="spacingAndGlyphs">0%</text>
<text x="424.30" y="764.60" font-size="5.9" fill="#333" stroke="#333" stroke-width="0.17" font-weight="bold" textLength="16.10" lengthAdjust="spacingAndGlyphs">Other</text>
<rect x="442.00" y="758.60" width="12.8" height="8.5" rx="4.25" fill="#b23b7f"/>
<text x="448.40" y="764.50" font-size="5.3" fill="#fff" font-weight="bold" text-anchor="middle" textLength="6.20" lengthAdjust="spacingAndGlyphs">17</text>
<text x="456.50" y="764.60" font-size="5.9" fill="#333" stroke="#333" stroke-width="0.17" font-weight="bold" textLength="7.00" lengthAdjust="spacingAndGlyphs">0%</text>
<path d="M555.40 689.90A38.7 38.7 0 0 1 561.79 690.43L560.58 697.63A31.4 31.4 0 0 0 555.40 697.20Z" fill="#d0391c"/>
<path d="M561.79 690.43A38.7 38.7 0 0 1 565.81 691.33L563.84 698.36A31.4 31.4 0 0 0 560.58 697.63Z" fill="#f37032"/>
<path d="M565.81 691.33A38.7 38.7 0 0 1 581.79 700.30L576.81 705.64A31.4 31.4 0 0 0 563.84 698.36Z" fill="#fba919"/>
<path d="M581.79 700.30A38.7 38.7 0 0 1 532.65 759.91L536.94 754.00A31.4 31.4 0 0 0 576.81 705.64Z" fill="#76bd40"/>
<path d="M532.65 759.91A38.7 38.7 0 0 1 555.40 689.90L555.40 697.20A31.4 31.4 0 0 0 536.94 754.00Z" fill="#1285b8"/>
<g fill="none" stroke="#bdbdbd" stroke-width="1"><rect x="551.10" y="713.70" width="8.6" height="6.8" rx="0.6"/><path d="M551.10 715.50h8.6"/></g>
<text x="555.40" y="730.60" font-size="7.6" fill="#666" stroke="#666" stroke-width="0.14" text-anchor="middle" textLength="15.40" lengthAdjust="spacingAndGlyphs">Top 6</text>
<text x="555.40" y="740.60" font-size="9.6" fill="#222" stroke="#222" stroke-width="0.27" font-weight="bold" text-anchor="middle" textLength="42.20" lengthAdjust="spacingAndGlyphs">Browsers</text>
<text x="605.00" y="697.20" font-size="5.9" fill="#333" stroke="#333" stroke-width="0.17" font-weight="bold" textLength="18.80" lengthAdjust="spacingAndGlyphs">Firefox</text>
<rect x="625.40" y="691.20" width="19.5" height="8.5" rx="4.25" fill="#1285b8"/>
<text x="635.15" y="697.10" font-size="5.3" fill="#fff" font-weight="bold" text-anchor="middle" textLength="12.90" lengthAdjust="spacingAndGlyphs">2,840</text>
<text x="646.60" y="697.20" font-size="5.9" fill="#333" stroke="#333" stroke-width="0.17" font-weight="bold" textLength="10.00" lengthAdjust="spacingAndGlyphs">42%</text>
<text x="605.00" y="710.68" font-size="5.9" fill="#333" stroke="#333" stroke-width="0.17" font-weight="bold" textLength="28.80" lengthAdjust="spacingAndGlyphs">Apple Mail</text>
<rect x="635.40" y="704.68" width="19.5" height="8.5" rx="4.25" fill="#76bd40"/>
<text x="645.15" y="710.58" font-size="5.3" fill="#fff" font-weight="bold" text-anchor="middle" textLength="12.90" lengthAdjust="spacingAndGlyphs">3,231</text>
<text x="656.60" y="710.68" font-size="5.9" fill="#333" stroke="#333" stroke-width="0.17" font-weight="bold" textLength="10.00" lengthAdjust="spacingAndGlyphs">48%</text>
<text x="605.00" y="724.16" font-size="5.9" fill="#333" stroke="#333" stroke-width="0.17" font-weight="bold" textLength="21.20" lengthAdjust="spacingAndGlyphs">Chrome</text>
<rect x="627.80" y="718.16" width="15.2" height="8.5" rx="4.25" fill="#fba919"/>
<text x="635.40" y="724.06" font-size="5.3" fill="#fff" font-weight="bold" text-anchor="middle" textLength="8.60" lengthAdjust="spacingAndGlyphs">464</text>
<text x="644.70" y="724.16" font-size="5.9" fill="#333" stroke="#333" stroke-width="0.17" font-weight="bold" textLength="7.00" lengthAdjust="spacingAndGlyphs">7%</text>
<text x="605.00" y="737.64" font-size="5.9" fill="#333" stroke="#333" stroke-width="0.17" font-weight="bold" textLength="6.10" lengthAdjust="spacingAndGlyphs">Qt</text>
<rect x="612.70" y="731.64" width="12.8" height="8.5" rx="4.25" fill="#f37032"/>
<text x="619.10" y="737.54" font-size="5.3" fill="#fff" font-weight="bold" text-anchor="middle" textLength="6.20" lengthAdjust="spacingAndGlyphs">92</text>
<text x="627.20" y="737.64" font-size="5.9" fill="#333" stroke="#333" stroke-width="0.17" font-weight="bold" textLength="7.00" lengthAdjust="spacingAndGlyphs">1%</text>
<text x="605.00" y="751.12" font-size="5.9" fill="#333" stroke="#333" stroke-width="0.17" font-weight="bold" textLength="4.50" lengthAdjust="spacingAndGlyphs">IE</text>
<rect x="611.10" y="745.12" width="12.8" height="8.5" rx="4.25" fill="#d0391c"/>
<text x="617.50" y="751.02" font-size="5.3" fill="#fff" font-weight="bold" text-anchor="middle" textLength="6.20" lengthAdjust="spacingAndGlyphs">97</text>
<text x="625.60" y="751.12" font-size="5.9" fill="#333" stroke="#333" stroke-width="0.17" font-weight="bold" textLength="7.00" lengthAdjust="spacingAndGlyphs">1%</text>
<text x="605.00" y="764.60" font-size="5.9" fill="#333" stroke="#333" stroke-width="0.17" font-weight="bold" textLength="15.40" lengthAdjust="spacingAndGlyphs">Other</text>
<rect x="622.00" y="758.60" width="12.8" height="8.5" rx="4.25" fill="#b23b7f"/>
<text x="628.40" y="764.50" font-size="5.3" fill="#fff" font-weight="bold" text-anchor="middle" textLength="6.20" lengthAdjust="spacingAndGlyphs">64</text>
<text x="636.50" y="764.60" font-size="5.9" fill="#333" stroke="#333" stroke-width="0.17" font-weight="bold" textLength="7.00" lengthAdjust="spacingAndGlyphs">1%</text>
<path d="M735.40 689.90A38.7 38.7 0 0 1 740.12 690.19L739.23 697.43A31.4 31.4 0 0 0 735.40 697.20Z" fill="#d0391c"/>
<path d="M740.12 690.19A38.7 38.7 0 0 1 741.45 690.38L740.31 697.59A31.4 31.4 0 0 0 739.23 697.43Z" fill="#f37032"/>
<path d="M741.45 690.38A38.7 38.7 0 0 1 768.22 708.09L762.03 711.96A31.4 31.4 0 0 0 740.31 697.59Z" fill="#fba919"/>
<path d="M768.22 708.09A38.7 38.7 0 0 1 770.64 744.59L764.00 741.57A31.4 31.4 0 0 0 762.03 711.96Z" fill="#76bd40"/>
<path d="M770.64 744.59A38.7 38.7 0 1 1 735.40 689.90L735.40 697.20A31.4 31.4 0 1 0 764.00 741.57Z" fill="#1285b8"/>
<g fill="none" stroke="#bdbdbd" stroke-width="1"><rect x="732.90" y="706.40" width="5" height="7.8" rx="0.9"/></g>
<text x="735.40" y="724.10" font-size="7.6" fill="#666" stroke="#666" stroke-width="0.14" text-anchor="middle" textLength="15.40" lengthAdjust="spacingAndGlyphs">Top 6</text>
<text x="735.40" y="734.10" font-size="9.6" fill="#222" stroke="#222" stroke-width="0.27" font-weight="bold" text-anchor="middle" textLength="31.00" lengthAdjust="spacingAndGlyphs">Mobile</text>
<text x="735.40" y="744.20" font-size="9.6" fill="#222" stroke="#222" stroke-width="0.27" font-weight="bold" text-anchor="middle" textLength="35.00" lengthAdjust="spacingAndGlyphs">Devices</text>
<text x="785.00" y="697.20" font-size="5.9" fill="#333" stroke="#333" stroke-width="0.17" font-weight="bold" textLength="18.40" lengthAdjust="spacingAndGlyphs">iPhone</text>
<rect x="805.00" y="691.20" width="15.2" height="8.5" rx="4.25" fill="#1285b8"/>
<text x="812.60" y="697.10" font-size="5.3" fill="#fff" font-weight="bold" text-anchor="middle" textLength="8.60" lengthAdjust="spacingAndGlyphs">880</text>
<text x="821.90" y="697.20" font-size="5.9" fill="#333" stroke="#333" stroke-width="0.17" font-weight="bold" textLength="10.00" lengthAdjust="spacingAndGlyphs">70%</text>
<text x="785.00" y="710.68" font-size="5.9" fill="#333" stroke="#333" stroke-width="0.17" font-weight="bold" textLength="11.40" lengthAdjust="spacingAndGlyphs">iPad</text>
<rect x="798.00" y="704.68" width="15.2" height="8.5" rx="4.25" fill="#76bd40"/>
<text x="805.60" y="710.58" font-size="5.3" fill="#fff" font-weight="bold" text-anchor="middle" textLength="8.60" lengthAdjust="spacingAndGlyphs">199</text>
<text x="814.90" y="710.68" font-size="5.9" fill="#333" stroke="#333" stroke-width="0.17" font-weight="bold" textLength="10.00" lengthAdjust="spacingAndGlyphs">16%</text>
<text x="785.00" y="724.16" font-size="5.9" fill="#333" stroke="#333" stroke-width="0.17" font-weight="bold" textLength="21.60" lengthAdjust="spacingAndGlyphs">Android</text>
<rect x="808.20" y="718.16" width="15.2" height="8.5" rx="4.25" fill="#fba919"/>
<text x="815.80" y="724.06" font-size="5.3" fill="#fff" font-weight="bold" text-anchor="middle" textLength="8.60" lengthAdjust="spacingAndGlyphs">158</text>
<text x="825.10" y="724.16" font-size="5.9" fill="#333" stroke="#333" stroke-width="0.17" font-weight="bold" textLength="10.00" lengthAdjust="spacingAndGlyphs">13%</text>
<text x="785.00" y="737.64" font-size="5.9" fill="#333" stroke="#333" stroke-width="0.17" font-weight="bold" textLength="12.90" lengthAdjust="spacingAndGlyphs">Zune</text>
<rect x="799.50" y="731.64" width="10.0" height="8.5" rx="4.25" fill="#f37032"/>
<text x="804.50" y="737.54" font-size="5.3" fill="#fff" font-weight="bold" text-anchor="middle" textLength="3.40" lengthAdjust="spacingAndGlyphs">7</text>
<text x="811.20" y="737.64" font-size="5.9" fill="#333" stroke="#333" stroke-width="0.17" font-weight="bold" textLength="7.00" lengthAdjust="spacingAndGlyphs">1%</text>
<text x="785.00" y="751.12" font-size="5.9" fill="#333" stroke="#333" stroke-width="0.17" font-weight="bold" textLength="15.50" lengthAdjust="spacingAndGlyphs">Nokia</text>
<rect x="802.10" y="745.12" width="10.0" height="8.5" rx="4.25" fill="#d0391c"/>
<text x="807.10" y="751.02" font-size="5.3" fill="#fff" font-weight="bold" text-anchor="middle" textLength="3.40" lengthAdjust="spacingAndGlyphs">6</text>
<text x="813.80" y="751.12" font-size="5.9" fill="#333" stroke="#333" stroke-width="0.17" font-weight="bold" textLength="7.00" lengthAdjust="spacingAndGlyphs">0%</text>
<text x="785.00" y="764.60" font-size="5.9" fill="#333" stroke="#333" stroke-width="0.17" font-weight="bold" textLength="15.60" lengthAdjust="spacingAndGlyphs">Other</text>
<rect x="802.20" y="758.60" width="10.0" height="8.5" rx="4.25" fill="#b23b7f"/>
<text x="807.20" y="764.50" font-size="5.3" fill="#fff" font-weight="bold" text-anchor="middle" textLength="3.40" lengthAdjust="spacingAndGlyphs">6</text>
<text x="813.90" y="764.60" font-size="5.9" fill="#333" stroke="#333" stroke-width="0.17" font-weight="bold" textLength="7.00" lengthAdjust="spacingAndGlyphs">0%</text>
</g>
<rect x="318.5" y="425.5" width="555" height="352" rx="3.5" fill="none" stroke="#cfcfcf" stroke-width="1"/>
</g>
<g id="copy" stroke-linejoin="round">
<text x="142.40" y="126.00" font-size="16.5" fill="#222222" font-weight="bold" textLength="186.60" lengthAdjust="spacingAndGlyphs" stroke="#222" stroke-width="0.35">ENGAGEMENT ACTIVITY</text>
<text x="114.40" y="156.00" font-size="14" fill="#242424" textLength="242.60" lengthAdjust="spacingAndGlyphs" stroke="#242424" stroke-width="0.22">See how long people have your email</text>
<text x="142.40" y="171.00" font-size="14" fill="#242424" textLength="186.60" lengthAdjust="spacingAndGlyphs" stroke="#242424" stroke-width="0.22">open and what they do next.</text>
<text x="15.75" y="608.80" font-size="16.5" fill="#222222" font-weight="bold" textLength="211.50" lengthAdjust="spacingAndGlyphs" stroke="#222" stroke-width="0.35">GEOLOCATION REPORTING</text>
<text x="15.75" y="639.00" font-size="14" fill="#242424" textLength="219.80" lengthAdjust="spacingAndGlyphs" stroke="#242424" stroke-width="0.22">Identify where your email is being</text>
<text x="15.75" y="653.60" font-size="14" fill="#242424" textLength="114.70" lengthAdjust="spacingAndGlyphs" stroke="#242424" stroke-width="0.22">opened and read.</text>
<text x="954.20" y="560.80" font-size="16.5" fill="#222222" font-weight="bold" textLength="130.50" lengthAdjust="spacingAndGlyphs" stroke="#222" stroke-width="0.35">CLIENT &amp; DEVICE</text>
<text x="969.30" y="577.70" font-size="16.5" fill="#222222" font-weight="bold" textLength="115.40" lengthAdjust="spacingAndGlyphs" stroke="#222" stroke-width="0.35">INFORMATION</text>
<text x="893.20" y="608.10" font-size="14" fill="#242424" textLength="191.50" lengthAdjust="spacingAndGlyphs" stroke="#242424" stroke-width="0.22">Learn which email clients and</text>
<text x="883.40" y="623.50" font-size="14" fill="#242424" textLength="201.30" lengthAdjust="spacingAndGlyphs" stroke="#242424" stroke-width="0.22">mobile devices your customers</text>
<text x="947.40" y="638.70" font-size="14" fill="#242424" textLength="137.30" lengthAdjust="spacingAndGlyphs" stroke="#242424" stroke-width="0.22">use, so you can focus</text>
<text x="891.30" y="653.60" font-size="14" fill="#242424" textLength="193.40" lengthAdjust="spacingAndGlyphs" stroke="#242424" stroke-width="0.22">development where it counts.</text>
</g>
<g id="connectors" fill="none" stroke="#1287b9" stroke-width="1.9">
<path d="M316.6 54H370L460 162"/>
<path d="M101.3 540H154.8L244.4 467.8"/>
<path d="M964.4 486H910.3L820.4 539.8"/>
</g>
<g id="icon-chart" fill="none" stroke="#1287b9">
<rect x="199.5" y="18.5" width="73" height="63" rx="6.5" stroke-width="3"/>
<path d="M209.6 19V81M227.6 19V81M245.6 19V81M263.6 19V81M200 32.2H272M200 50.2H272M200 68.6H272" stroke-width="1.45"/>
<path d="M209.6 27L218 46L230 35L236.6 54.4L245 41L264 68" stroke-width="4.4" stroke-linecap="round" stroke-linejoin="round"/>
</g>
<g id="icon-globe" fill="none" stroke="#1287b9" stroke-width="2.4">
<circle cx="53" cy="535.6" r="34.2" stroke-width="3.2"/>
<ellipse cx="53" cy="535.6" rx="10.4" ry="33.6"/>
<ellipse cx="53" cy="535.6" rx="23.6" ry="34"/>
<path d="M19 536.4H87" stroke-width="2.6"/>
<path d="M24.6 517Q53 529.8 81.4 517M24.6 554.4Q53 540.4 81.4 554.4"/>
</g>
<g id="icon-devices" fill="none" stroke="#1287b9" stroke-linejoin="round">
<rect x="996.6" y="452.4" width="79.2" height="50" rx="3" stroke-width="3"/>
<rect x="1003" y="460.1" width="65.6" height="36.2" stroke-width="2.2"/>
<path d="M1036.4 503.8V511" stroke-width="2.8"/>
<path d="M1021.6 516.3V514.3Q1021.6 511.4 1024.6 511.4H1048.6Q1051.6 511.4 1051.6 514.3V516.3Q1051.6 517.8 1050 517.8H1023.2Q1021.6 517.8 1021.6 516.3Z" stroke-width="2.5"/>
<rect x="1059" y="475.6" width="24.8" height="42.2" rx="2.6" stroke-width="3" fill="#f1f2f1"/>
<rect x="1064.2" y="485.7" width="14.6" height="24.4" stroke-width="2"/>
<path d="M1068.4 480.7H1074.8" stroke-width="1.9"/>
<circle cx="1071.6" cy="513.4" r="1.5" fill="#1287b9" stroke="none"/>
</g>
</svg>
</body>
</html>
